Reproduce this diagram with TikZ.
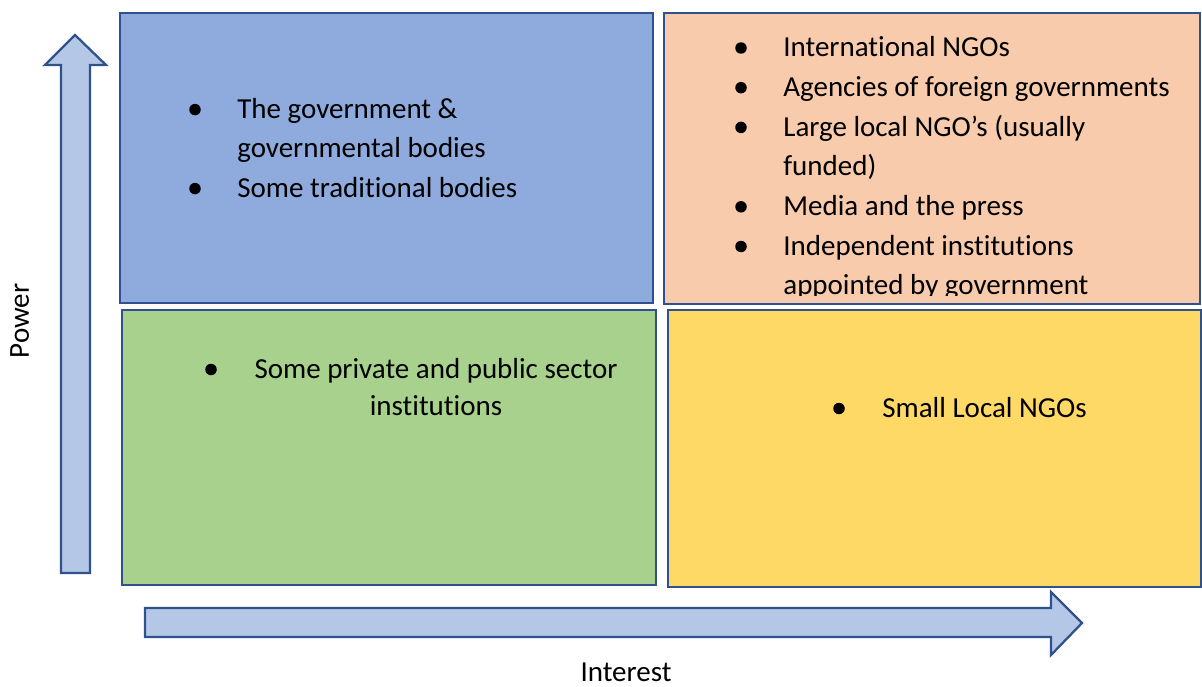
\documentclass[tikz,border=0pt]{standalone}
\usepackage{fontspec}
\setmainfont{Carlito}[Ligatures={NoCommon}]
\usetikzlibrary{fit}
\definecolor{QuadBorder}{HTML}{2F528F}
\definecolor{AxisFill}{HTML}{B4C7E7}
\definecolor{QuadBlue}{HTML}{8FAADC}
\definecolor{QuadOrange}{HTML}{F8CBAD}
\definecolor{QuadGreen}{HTML}{A9D18E}
\definecolor{QuadYellow}{HTML}{FFD966}

\begin{document}
\begin{tikzpicture}[
x=0.02cm, y=-0.02cm,
quad/.style={
  rectangle,
  draw=QuadBorder,
  line width=1.4pt,
  inner sep=0pt
},
entry/.style={
  anchor=base west,
  inner sep=0pt,
  align=left,
  font=\fontsize{16.5}{22.6}\selectfont
},
dot/.style={circle,fill=black,inner sep=0pt,minimum size=0.23cm},
axis/.style={draw=QuadBorder,fill=AxisFill,line width=1.3pt,line join=miter},
axislabel/.style={anchor=base,inner sep=0pt,font=\fontsize{16.5}{20}\selectfont}
]
\useasboundingbox (0,0) rectangle (1202,686);

% the four quadrants
\node[quad,fill=QuadBlue,fit={(120,13) (653,303)}] (hipow) {};
\node[quad,fill=QuadOrange,fit={(664,13) (1200,304)}] (hiboth) {};
\node[quad,fill=QuadGreen,fit={(122,310) (656,585)}] (lowboth) {};
\node[quad,fill=QuadYellow,fit={(668,310) (1201,587)}] (hiint) {};

% axes
\draw[axis] (61,573) -- (61,65) -- (45,65) -- (75,35) -- (106,65) -- (90,65) -- (90,573) -- cycle;
\draw[axis] (145,608) -- (1051,608) -- (1051,592) -- (1082,623) -- (1051,655) -- (1051,637) -- (145,637) -- cycle;
\node[axislabel,rotate=90] (power) at (29,321) {Power};
\node[axislabel] (interest) at (626,681) {Interest};

% high power, low interest
% (two-line entries sit on the baseline of their last line)
\node[dot] (b1) at (195,109.6) {};
\node[entry] (t1) at (237,157.8) {The government \&\\governmental bodies};
\node[dot] (b2) at (195,188.6) {};
\node[entry] (t2) at (237,197.3) {Some traditional bodies};

% high power, high interest (last line runs past the box)
\begin{scope}
\clip (664,13) rectangle (1200,295);
\node[dot] (b3) at (741,48) {};
\node[entry] (t3) at (783,56.7) {International NGOs};
\node[dot] (b4) at (741,87.7) {};
\node[entry] (t4) at (783,96.4) {Agencies of foreign governments};
\node[dot] (b5) at (741,127.4) {};
\node[entry] (t5) at (783,175.8) {Large local NGO’s (usually\\funded)};
\node[dot] (b6) at (741,206.8) {};
\node[entry] (t6) at (783,215.5) {Media and the press};
\node[dot] (b7) at (741,246.5) {};
\node[entry] (t7) at (783,294.9) {Independent institutions\\appointed by government};
\end{scope}

% low power, low interest
\node[dot] (b8) at (211,369.5) {};
\node[entry,anchor=base,align=center,font=\fontsize{16.5}{21}\selectfont] (t8) at (436,415) {Some private and public sector\\institutions};

% low power, high interest
\node[dot] (b9) at (839,408.5) {};
\node[entry] (t9) at (882,417) {Small Local NGOs};
\end{tikzpicture}
\end{document}
